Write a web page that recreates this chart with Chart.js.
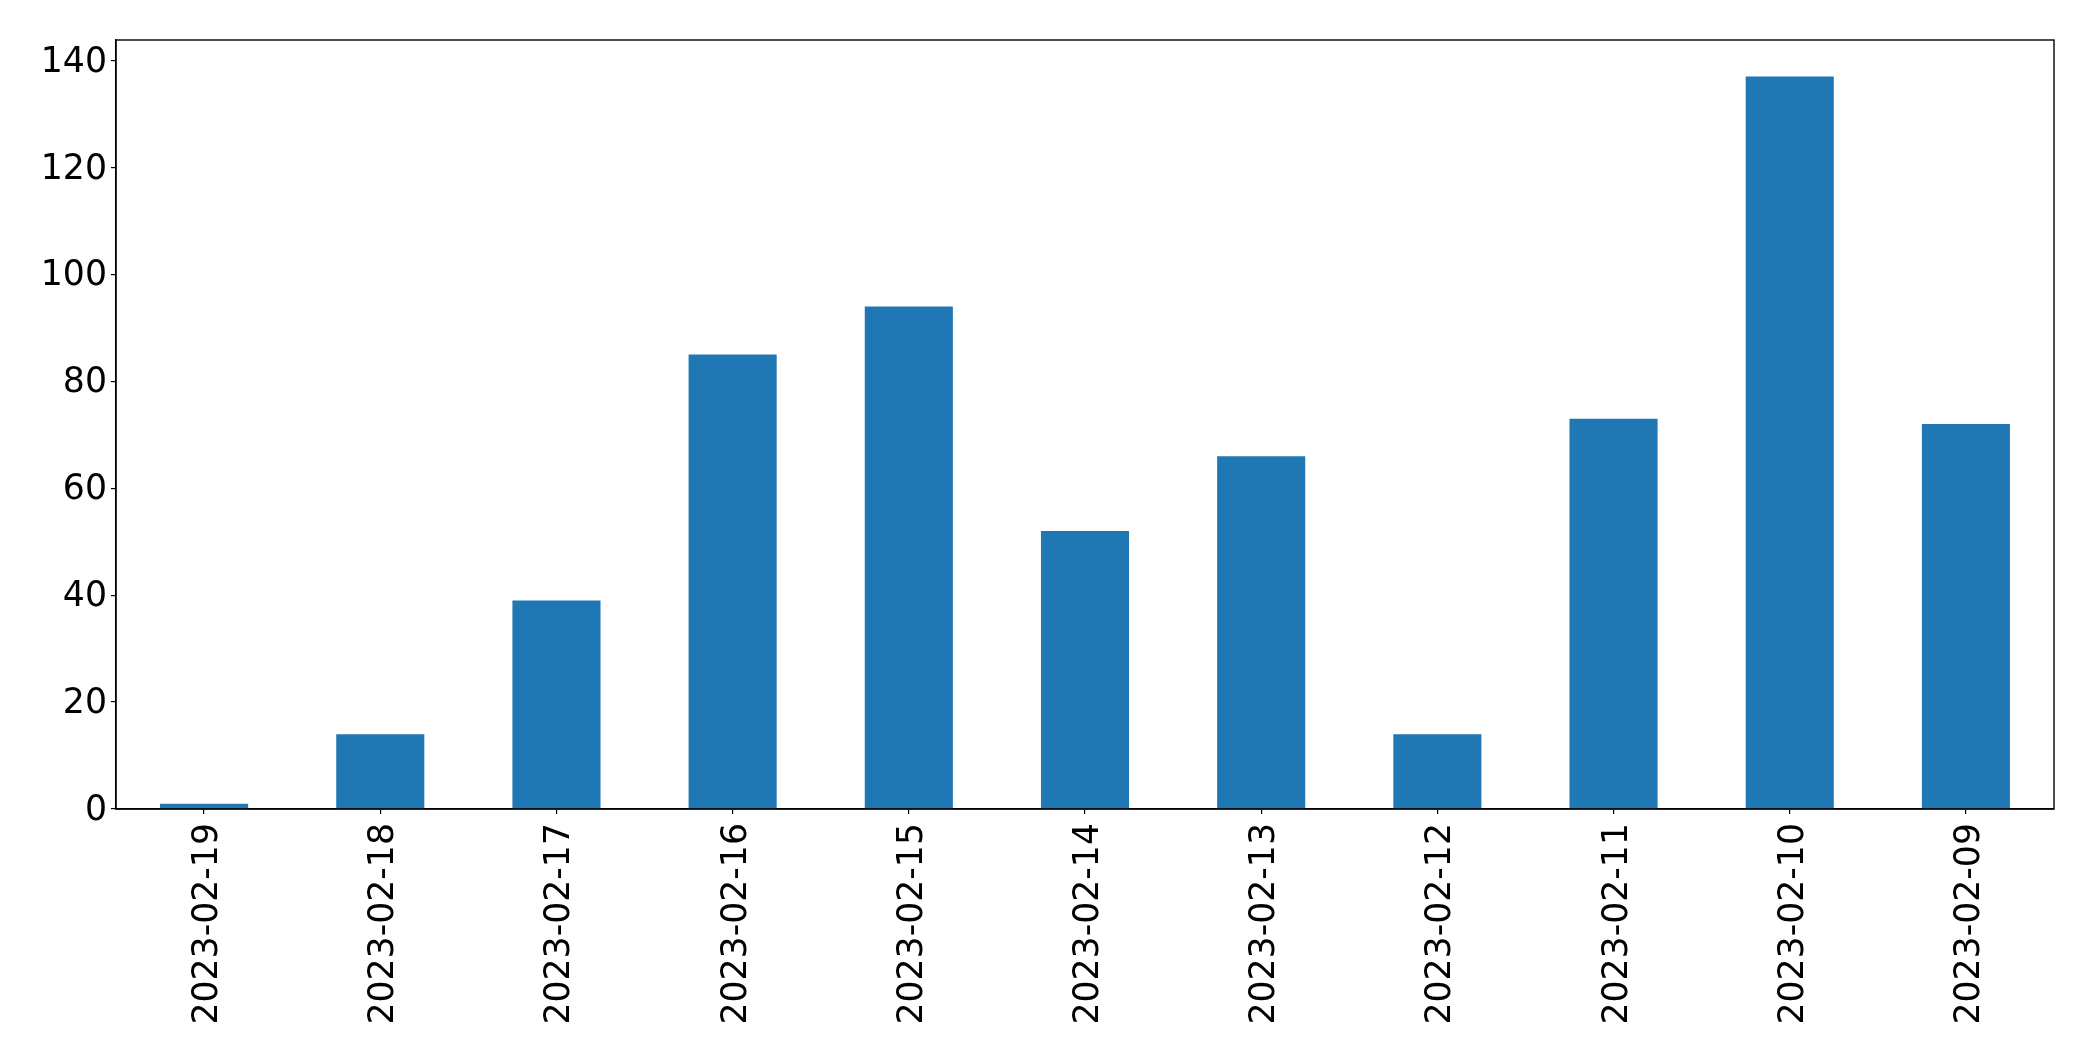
<!DOCTYPE html>
<html>
<head>
<meta charset="utf-8">
<script src="https://cdn.jsdelivr.net/npm/chart.js@4"></script>
<style>
  html, body { margin: 0; padding: 0; background: #ffffff; }
  #wrap { width: 2093px; height: 1061px; }
</style>
</head>
<body>
<div id="wrap"><canvas id="c" width="2093" height="1061"></canvas></div>
<script>
const categories = ["2023-02-19","2023-02-18","2023-02-17","2023-02-16","2023-02-15","2023-02-14","2023-02-13","2023-02-12","2023-02-11","2023-02-10","2023-02-09"];
const counts = [1, 14, 39, 85, 94, 52, 66, 14, 73, 137, 72];
const yTickStep = 20;

const FONT = { family: "'DejaVu Sans', sans-serif", size: 34.7 };

const frame = {
  id: 'frame',
  afterDraw(chart) {
    const a = chart.chartArea, ctx = chart.ctx;
    ctx.save();
    ctx.strokeStyle = '#000';
    ctx.lineWidth = 1.4;
    ctx.strokeRect(a.left, a.top, a.right - a.left, a.bottom - a.top);
    ctx.restore();
  }
};

new Chart(document.getElementById('c'), {
  type: 'bar',
  data: {
    labels: categories,
    datasets: [{
      data: counts,
      backgroundColor: '#1f77b4',
      borderWidth: 0,
      barPercentage: 0.5,
      categoryPercentage: 1.0
    }]
  },
  options: {
    responsive: false,
    animation: false,
    devicePixelRatio: 1,
    layout: { padding: { top: 40, right: 39, left: 0, bottom: 0 } },
    plugins: { legend: { display: false }, tooltip: { enabled: false } },
    scales: {
      x: {
        offset: true,
        grid: { display: true, offset: false, drawOnChartArea: false, drawTicks: true, tickLength: 5, color: '#000', lineWidth: 1.2 },
        border: { display: true, color: '#000', width: 1.4 },
        ticks: { color: '#000', font: FONT, minRotation: 90, maxRotation: 90, padding: 9, labelOffset: 4, autoSkip: false },
        afterFit(scale) { scale.height = 252; }
      },
      y: {
        min: 0,
        max: Math.max(...counts) * 1.05,
        grid: { display: true, drawOnChartArea: false, drawTicks: true, tickLength: 5, color: '#000', lineWidth: 1.2 },
        border: { display: true, color: '#000', width: 1.4 },
        ticks: { color: '#000', font: FONT, stepSize: yTickStep, includeBounds: false, padding: 4, labelOffset: 2 },
        afterFit(scale) { scale.width = 116; }
      }
    }
  },
  plugins: [frame]
});
</script>
</body>
</html>
